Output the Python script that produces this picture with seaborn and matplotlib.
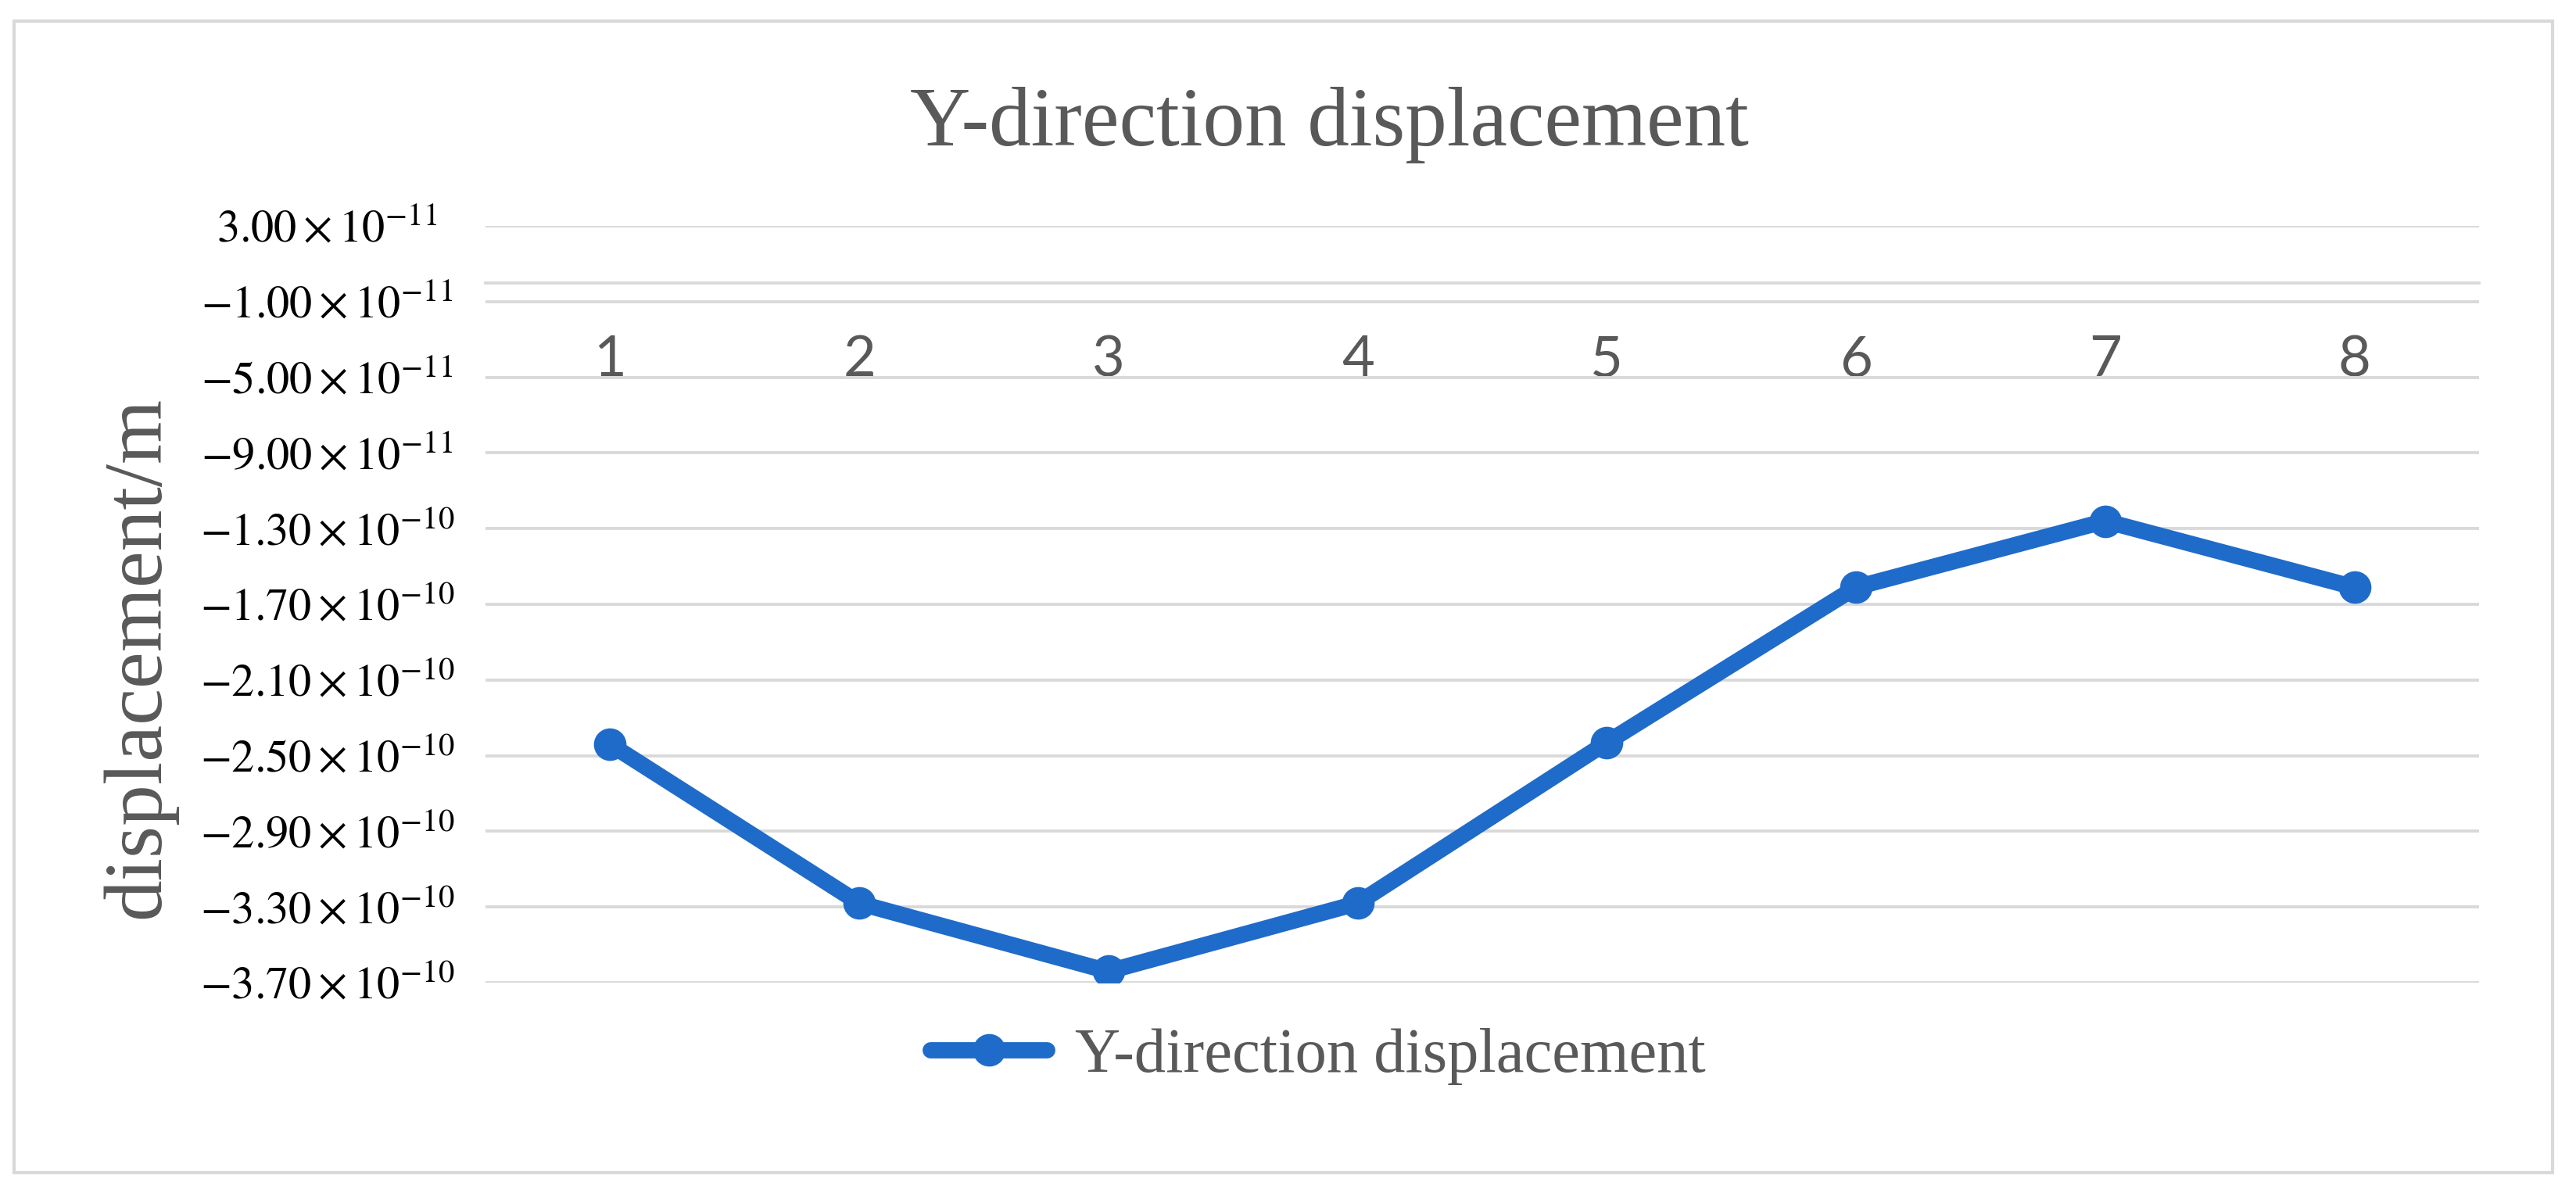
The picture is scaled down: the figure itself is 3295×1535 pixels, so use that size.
import numpy as np
import pandas as pd
import matplotlib
matplotlib.use("Agg")
import matplotlib.pyplot as plt
from matplotlib.patches import Rectangle
import seaborn as sns

# values
categories = ["1", "2", "3", "4", "5", "6", "7", "8"]
displacement = [-2.44e-10, -3.28e-10, -3.64e-10, -3.28e-10, -2.43e-10, -1.61e-10, -1.26e-10, -1.61e-10]
y_tick_mantissa = [3.00, -1.00, -5.00, -9.00, -1.30, -1.70, -2.10, -2.50, -2.90, -3.30, -3.70]
y_tick_exponent = [-11, -11, -11, -11, -10, -10, -10, -10, -10, -10, -10]
series_name = "Y-direction displacement"

df = pd.DataFrame({"pos": np.arange(len(categories)), "disp": displacement})
y_ticks = [m * 10.0 ** e for m, e in zip(y_tick_mantissa, y_tick_exponent)]
y_labels = [r"$%.2f\times10^{%d}$" % (m, e) for m, e in zip(y_tick_mantissa, y_tick_exponent)]

sns.set_theme(style="white")
plt.rcParams["font.family"] = ["Liberation Serif", "DejaVu Serif"]
plt.rcParams["mathtext.fontset"] = "stix"

W, H, DPI = 3295, 1535, 200
fig = plt.figure(figsize=(W / DPI, H / DPI), dpi=DPI)
ax = fig.add_axes([621 / W, 1 - 1257 / H, (3171 - 621) / W, (1257 - 289) / H])

blue = "#1F6BC9"
grid_c = "#D9D9D9"
text_c = "#595959"

sns.lineplot(data=df, x="pos", y="disp", ax=ax, color=blue, linewidth=7.5,
             marker="o", markersize=15, markeredgewidth=0, label=series_name)

ax.set_xlim(-0.5, len(categories) - 0.5)
ax.set_ylim(min(y_ticks), max(y_ticks))

# y ticks with centred labels
ax.set_yticks(y_ticks)
ax.set_yticklabels(y_labels)
ax.tick_params(axis="y", length=0, pad=73, labelsize=21, labelcolor="black")
for t in ax.get_yticklabels():
    t.set_ha("center")
ax.yaxis.grid(True, color=grid_c, linewidth=1.4)
ax.xaxis.grid(False)

# category axis crosses at y = 0
for s in ["left", "right", "top"]:
    ax.spines[s].set_visible(False)
ax.spines["bottom"].set_position(("data", 0))
ax.spines["bottom"].set_color(grid_c)
ax.spines["bottom"].set_linewidth(1.4)
ax.set_xticks(df["pos"])
ax.set_xticklabels(categories, fontfamily="Lato")
ax.tick_params(axis="x", length=0, pad=24, labelsize=26, labelcolor=text_c)
ax.set_xlabel("")

ax.set_ylabel("displacement/m", fontsize=38, color=text_c, va="center")
ax.yaxis.set_label_coords((178 - 621) / 2550, 0.43)

fig.text(1700 / W, 1 - 160 / H, series_name, ha="center", va="center",
         fontsize=38.5, color=text_c)

leg = ax.legend(loc="center", bbox_to_anchor=(1686 / W, 1 - 1351 / H),
                bbox_transform=fig.transFigure, frameon=False, fontsize=29,
                handlelength=1.85, handletextpad=0.45)
for t in leg.get_texts():
    t.set_color(text_c)

# light chart-area border
fig.patches.append(Rectangle((18 / W, 1 - 1500 / H), (3265 - 18) / W, (1500 - 27) / H,
                             transform=fig.transFigure, fill=False,
                             edgecolor=grid_c, linewidth=1.5))

fig.savefig("out.png", dpi=DPI, facecolor="white")
